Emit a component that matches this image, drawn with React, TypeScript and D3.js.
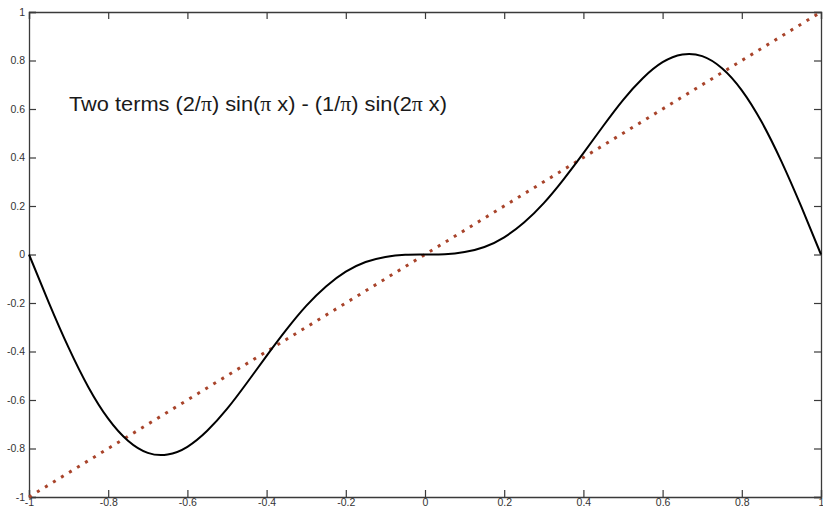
import React, { useRef, useEffect } from "react";
import * as d3 from "d3";

// values, x step 0.05
const xValues = [
  -1, -0.95, -0.9, -0.85, -0.8, -0.75, -0.7, -0.65, -0.6, -0.55, -0.5, -0.45, -0.4, -0.35,
  -0.3, -0.25, -0.2, -0.15, -0.1, -0.05, 0, 0.05, 0.1, 0.15, 0.2, 0.25, 0.3, 0.35, 0.4,
  0.45, 0.5, 0.55, 0.6, 0.65, 0.7, 0.75, 0.8, 0.85, 0.9, 0.95, 1,
];
const curveValues = [
  0, -0.198, -0.384, -0.547, -0.677, -0.768, -0.818, -0.825, -0.793, -0.727, -0.637,
  -0.53, -0.418, -0.31, -0.212, -0.132, -0.071, -0.031, -0.01, -0.001, 0, 0.001, 0.01,
  0.031, 0.071, 0.132, 0.212, 0.31, 0.418, 0.53, 0.637, 0.727, 0.793, 0.825, 0.818,
  0.768, 0.677, 0.547, 0.384, 0.198, 0,
];
const diagonalX = [-1, 1];
const diagonalY = [-1, 1];
const xTicks = [-1, -0.8, -0.6, -0.4, -0.2, 0, 0.2, 0.4, 0.6, 0.8, 1];
const yTicks = [-1, -0.8, -0.6, -0.4, -0.2, 0, 0.2, 0.4, 0.6, 0.8, 1];

const App = () => {
  const svgRef = useRef<SVGSVGElement>(null);

  useEffect(() => {
    const svg = d3.select(svgRef.current);
    svg.selectAll("*").remove();

    const width = 823;
    const height = 512;
    const margin = { top: 12, right: 2, bottom: 15, left: 29 };

    const x = d3.scaleLinear().domain([-1, 1]).range([margin.left, width - margin.right]);
    const y = d3.scaleLinear().domain([-1, 1]).range([height - margin.bottom, margin.top]);

    svg.append("rect").attr("width", width).attr("height", height).attr("fill", "#fff");

    const axisColor = "#3a3a3a";
    const tickLen = 7;
    const fmt = (d: d3.NumberValue) => String(d);

    // bottom axis
    const xAxis = svg
      .append("g")
      .attr("transform", `translate(0,${y(-1)})`)
      .call(d3.axisBottom(x).tickValues(xTicks).tickSize(-tickLen).tickPadding(3).tickFormat(fmt));
    // left axis
    const yAxis = svg
      .append("g")
      .attr("transform", `translate(${x(-1)},0)`)
      .call(d3.axisLeft(y).tickValues(yTicks).tickSize(-tickLen).tickPadding(4).tickFormat(fmt));
    // top and right mirror ticks
    const xTop = svg
      .append("g")
      .attr("transform", `translate(0,${y(1)})`)
      .call(d3.axisTop(x).tickValues(xTicks).tickSize(-tickLen).tickFormat(() => ""));
    const yRight = svg
      .append("g")
      .attr("transform", `translate(${x(1)},0)`)
      .call(d3.axisRight(y).tickValues(yTicks).tickSize(-tickLen).tickFormat(() => ""));

    [xAxis, yAxis, xTop, yRight].forEach((g) => {
      g.select(".domain").attr("stroke", axisColor).attr("stroke-width", 1.3);
      g.selectAll(".tick line").attr("stroke", axisColor).attr("stroke-width", 1.2);
      g.selectAll("text")
        .attr("fill", "#333")
        .style("font-family", "'Liberation Sans', Arial, sans-serif")
        .style("font-size", "10.5px");
    });
    xAxis.selectAll("text").attr("dy", "0.6em");

    // y = x dotted line
    const line = d3
      .line<number>()
      .x((d, i) => x(diagonalX[i]))
      .y((d) => y(d));
    svg
      .append("path")
      .datum(diagonalY)
      .attr("d", line)
      .attr("fill", "none")
      .attr("stroke", "#a8432a")
      .attr("stroke-width", 3)
      .attr("stroke-dasharray", "3 6.4");

    // two-term curve
    const curve = d3
      .line<number>()
      .x((d, i) => x(xValues[i]))
      .y((d) => y(d))
      .curve(d3.curveNatural);
    svg
      .append("path")
      .datum(curveValues)
      .attr("d", curve)
      .attr("fill", "none")
      .attr("stroke", "#000")
      .attr("stroke-width", 2);

    // annotation
    const label = svg
      .append("text")
      .attr("x", 69)
      .attr("y", 111)
      .attr("fill", "#1a1a1a")
      .style("font-family", "'Liberation Sans', Arial, sans-serif")
      .style("font-size", "21px")
      .attr("textLength", 378)
      .attr("lengthAdjust", "spacingAndGlyphs");
    const pi = (t: string) => label.append("tspan").style("font-family", "'Liberation Serif', 'Times New Roman', serif").text(t);
    const txt = (t: string) => label.append("tspan").text(t);
    txt("Two terms (2/");
    pi("π");
    txt(") sin(");
    pi("π");
    txt(" x) - (1/");
    pi("π");
    txt(") sin(2");
    pi("π");
    txt(" x)");
  }, []);

  return (
    <svg
      ref={svgRef}
      width={823}
      height={512}
      style={{ position: "absolute", top: 0, left: 0, display: "block" }}
    ></svg>
  );
};

export default App;
